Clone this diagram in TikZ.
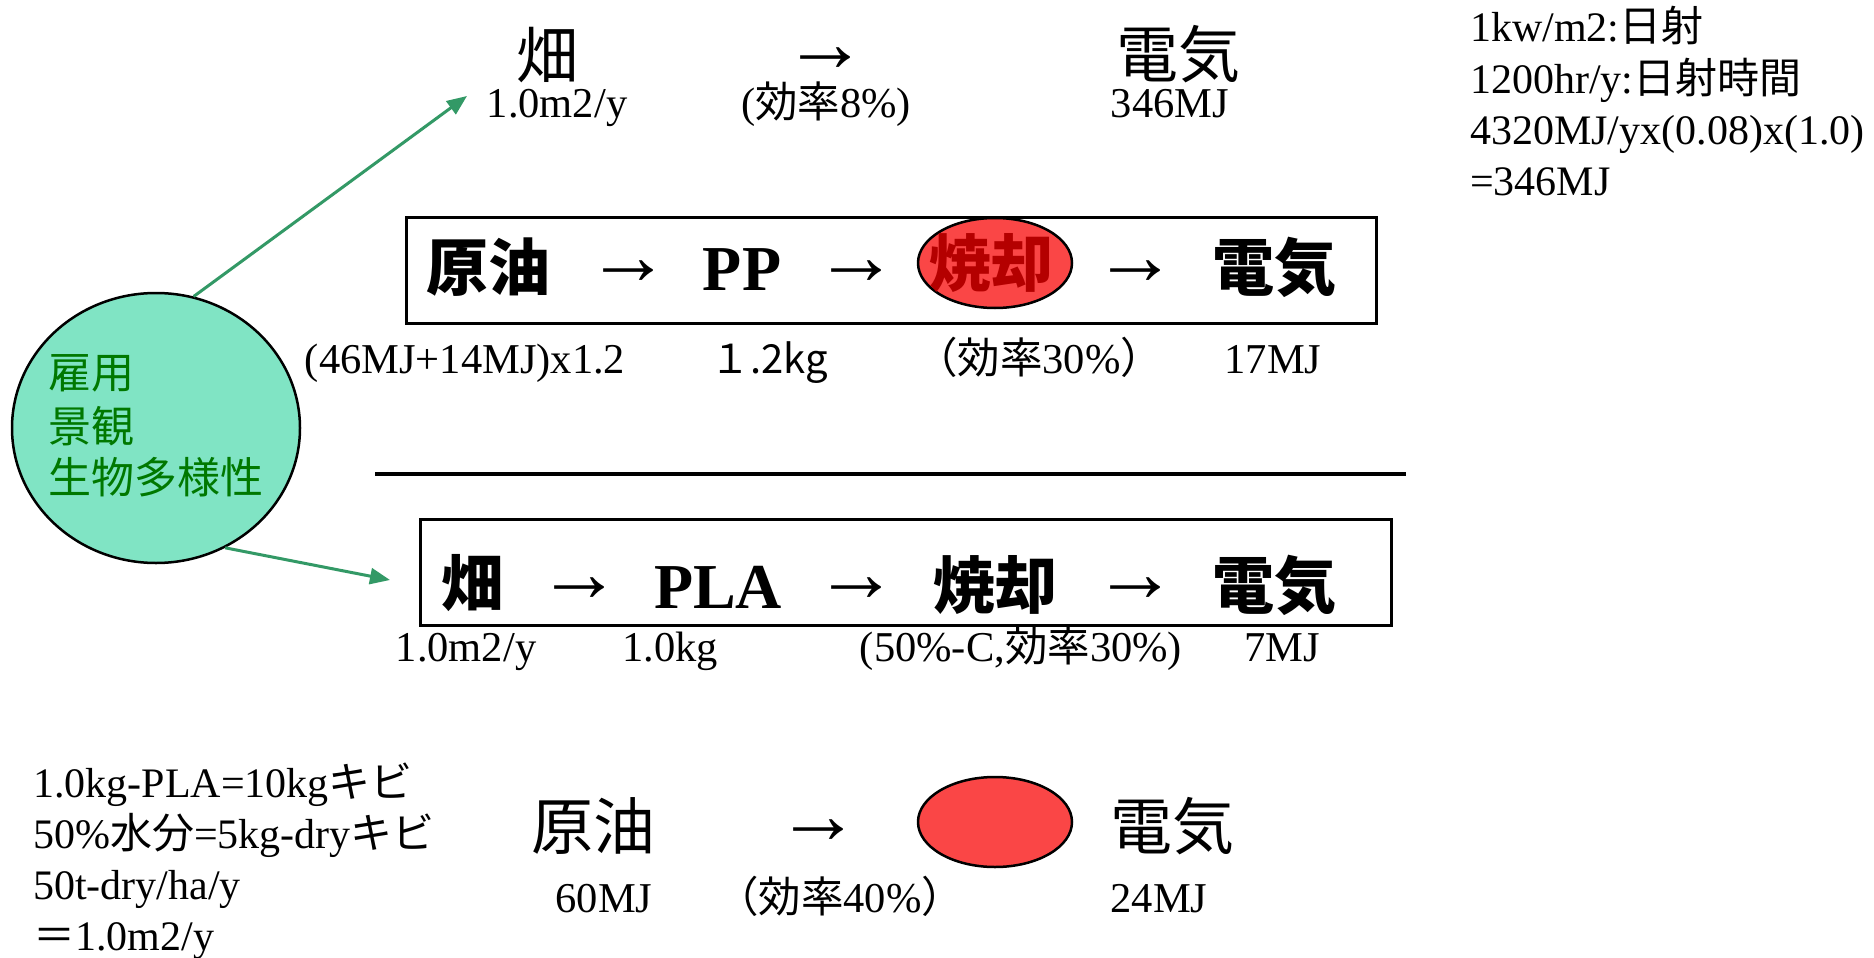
\documentclass[tikz,border=0pt]{standalone}
\usepackage{fontspec}
\setmainfont{Liberation Serif}
\newfontfamily\jp{Noto Sans CJK JP}
\usetikzlibrary{arrows.meta,shapes.geometric}
\definecolor{circfill}{RGB}{128,228,196}
\definecolor{circtext}{RGB}{0,120,0}
\definecolor{garrowc}{RGB}{51,153,102}
\definecolor{redfill}{RGB}{250,70,70}
\definecolor{darkred}{RGB}{180,0,0}
\tikzset{
  big/.style={font=\jp\fontsize{62}{62}\selectfont, inner sep=0pt},
  bigb/.style={font=\jp\bfseries\fontsize{62}{62}\selectfont, inner sep=0pt},
  latb/.style={font=\bfseries\fontsize{64}{64}\selectfont, inner sep=0pt, anchor=base},
  lbl/.style={font=\fontsize{42.5}{42.5}\selectfont, inner sep=0pt, anchor=base},
  lblw/.style={font=\fontsize{42}{42}\selectfont, inner sep=0pt, anchor=base west},
  arr/.style={font=\fontsize{84}{84}\selectfont, inner sep=0pt},
  frame/.style={draw, line width=3pt, inner sep=0pt},
  burn/.style={draw, ellipse, fill=redfill, line width=2.5pt, inner sep=0pt, minimum width=154pt, minimum height=90pt},
  ctext/.style={font=\jp\fontsize{43}{43}\selectfont, text=circtext, inner sep=0pt, anchor=west},
  garrow/.style={draw=garrowc, line width=3pt, -{Triangle[length=20pt,width=16pt]}}
}
\begin{document}
\begin{tikzpicture}[x=1pt,y=-1pt]
\path[use as bounding box, fill=white] (0,0) rectangle (1874,958);

% top row
\node[big] (t-field) at (547,55) {畑};
\node[arr] (t-arrow) at (825,60) {→};
\node[big] (t-elec) at (1178,54) {電気};
\node[lbl] (t-area) at (557,117) {1.0m2/y};
\node[lbl] (t-eff) at (826,117) {({\jp 効率}8\%)};
\node[lbl] (t-mj) at (1170,117) {346MJ};

% right notes
\node[lblw] (n1) at (1470,42) {1kw/m2:{\jp 日射}};
\node[lblw] (n2) at (1470,93) {1200hr/y:{\jp 日射時間}};
\node[lblw] (n3) at (1470,144) {4320MJ/yx(0.08)x(1.0)};
\node[lblw] (n4) at (1470,195) {=346MJ};

% box 1
\node[frame, minimum width=970pt, minimum height=106pt] (box1) at (891,270) {};
\node[burn] (burn1) at (995,263) {};
\node[bigb] (b1-oil) at (488,267) {原油};
\node[arr] (b1-a1) at (628,273) {→};
\node[latb] (b1-pp) at (742,290) {PP};
\node[arr] (b1-a2) at (856,273) {→};
\node[bigb, text=darkred] (b1-burn) at (991,263) {焼却};
\node[arr] (b1-a3) at (1135,273) {→};
\node[bigb] (b1-elec) at (1274,267) {電気};

\node[lbl] (l1-a) at (465,373) {(46MJ+14MJ)x1.2};
\node[lbl, font=\jp\fontsize{40}{40}\selectfont] (l1-b) at (769,373) {１.2kg};
\node[lbl] (l1-c) at (1039,373) {{\jp （効率}30\%{\jp ）}};
\node[lbl] (l1-d) at (1273,373) {17MJ};

% divider
\coordinate (divL) at (375,474);
\coordinate (divR) at (1406,474);
\draw[line width=4pt] (divL) -- (divR);

% box 2
\node[frame, minimum width=971pt, minimum height=106pt] (box2) at (905.5,572) {};
\node[bigb] (b2-field) at (472,583) {畑};
\node[arr] (b2-a1) at (579,590) {→};
\node[latb] (b2-pla) at (718,608) {PLA};
\node[arr] (b2-a2) at (856,590) {→};
\node[bigb] (b2-burn) at (995,585) {焼却};
\node[arr] (b2-a3) at (1135,590) {→};
\node[bigb] (b2-elec) at (1274,585) {電気};

\node[lbl] (l2-a) at (466,661) {1.0m2/y};
\node[lbl] (l2-b) at (670,661) {1.0kg};
\node[lbl] (l2-c) at (1021,661) {(50\%-C,{\jp 効率}30\%)};
\node[lbl] (l2-d) at (1282,661) {7MJ};

% bottom row
\node[big] (b3-oil) at (593,826) {原油};
\node[arr] (b3-a) at (818,832) {→};
\node[burn] (burn3) at (995,822) {};
\node[big] (b3-elec) at (1172,826) {電気};
\node[lbl] (l3-a) at (604,912) {60MJ};
\node[lbl] (l3-b) at (840,912) {{\jp （効率}40\%{\jp ）}};
\node[lbl] (l3-c) at (1159,912) {24MJ};

% bottom-left notes
\node[lblw] (m1) at (33,797) {1.0kg-PLA=10kg{\jp キビ}};
\node[lblw] (m2) at (33,848) {50\%{\jp 水分}=5kg-dry{\jp キビ}};
\node[lblw] (m3) at (33,899) {50t-dry/ha/y};
\node[lblw] (m4) at (33,950) {{\jp ＝}1.0m2/y};

% green circle
\node[draw, ellipse, fill=circfill, line width=2.5pt, inner sep=0pt, minimum width=288pt, minimum height=270pt] (circ) at (156,428) {};
\node[ctext] (c1) at (48,373) {雇用};
\node[ctext] (c2) at (48,426) {景観};
\node[ctext] (c3) at (48,477) {生物多様性};

\coordinate (g1) at (467,96);
\coordinate (g2) at (390,580);
\draw[garrow] (circ.74) -- (g1);
\draw[garrow] (circ.-60) -- (g2);
\end{tikzpicture}
\end{document}
